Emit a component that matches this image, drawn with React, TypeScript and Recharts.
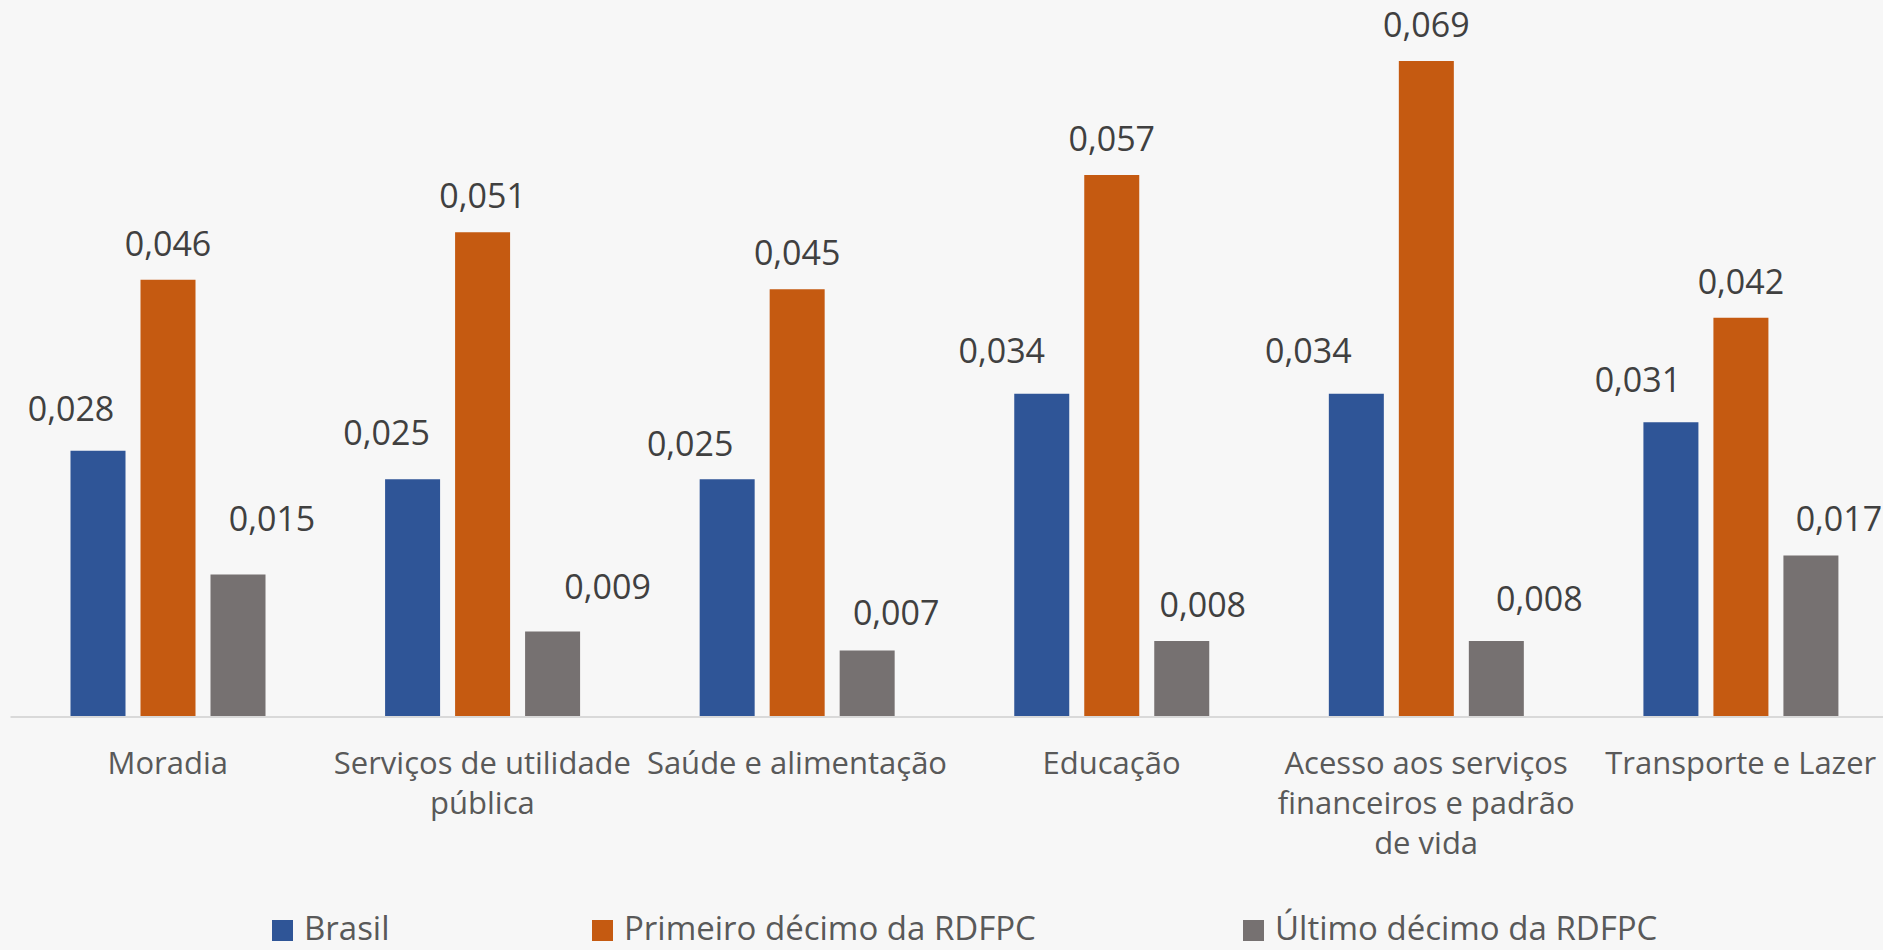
import React from 'react';
import { BarChart, Bar, XAxis, YAxis, LabelList, Legend } from 'recharts';

// Categories and their wrapped axis lines
const categories = [
  'Moradia',
  'Serviços de utilidade pública',
  'Saúde e alimentação',
  'Educação',
  'Acesso aos serviços financeiros e padrão de vida',
  'Transporte e Lazer',
];
const categoryLines = [
  ['Moradia'],
  ['Serviços de utilidade', 'pública'],
  ['Saúde e alimentação'],
  ['Educação'],
  ['Acesso aos serviços', 'financeiros e padrão', 'de vida'],
  ['Transporte e Lazer'],
];

// Series
const seriesNames = ['Brasil', 'Primeiro décimo da RDFPC', 'Último décimo da RDFPC'];
const brasil = [0.028, 0.025, 0.025, 0.034, 0.034, 0.031];
const primeiroDecimo = [0.046, 0.051, 0.045, 0.057, 0.069, 0.042];
const ultimoDecimo = [0.015, 0.009, 0.007, 0.008, 0.008, 0.017];

const data = categories.map((name, i) => ({
  name,
  brasil: brasil[i],
  primeiro: primeiroDecimo[i],
  ultimo: ultimoDecimo[i],
}));

const COLORS = ['#2F5597', '#C55A11', '#767171'];
const FONT = '"Open Sans", "Noto Sans", sans-serif';
const BG = '#F7F7F7';

// Manual nudges of the data labels (px), per category
const blueNudgeX = [-27, -26, -37, -40, -48, -33];
const blueNudgeY = [-6, -10, 1, -7, -7, -6];
const grayNudgeX = [34, 55, 29, 21, 43, 28];
const grayNudgeY = [-19, -8, -1, 0, -6, 0];
const zeros = [0, 0, 0, 0, 0, 0];

const fmt = (v: number) => v.toFixed(3).replace('.', ',');

const makeLabel = (dxs: number[], dys: number[]) => (props: any) => {
  const vb = props.viewBox ?? props;
  const x = Number(vb.x ?? props.x);
  const y = Number(vb.y ?? props.y);
  const w = Number(vb.width ?? props.width);
  const i = Number(props.index ?? 0);
  return (
    <text
      x={x + w / 2 + dxs[i]}
      y={y - 24 + dys[i]}
      textAnchor="middle"
      fontFamily={FONT}
      fontSize={34}
      fill="#404040"
    >
      {fmt(Number(props.value))}
    </text>
  );
};

const CategoryTick = (props: any) => {
  const { x, y, index } = props;
  const lines = categoryLines[index] ?? [String(props.payload?.value ?? '')];
  return (
    <g>
      {lines.map((line: string, k: number) => (
        <text
          key={k}
          x={x}
          y={y + 57 + k * 40}
          textAnchor="middle"
          fontFamily={FONT}
          fontSize={31}
          fill="#595959"
        >
          {line}
        </text>
      ))}
    </g>
  );
};

// Legend entry positions along the bottom row
const legendLefts = [272, 592, 1243];

const LegendContent = () => (
  <svg width={1898} height={60} style={{ display: 'block', overflow: 'visible' }}>
    {seriesNames.map((name, i) => (
      <g key={name}>
        <rect x={legendLefts[i]} y={30} width={21} height={21} fill={COLORS[i]} />
        <text
          x={legendLefts[i] + 32}
          y={50}
          fontFamily={FONT}
          fontSize={33}
          fill="#595959"
        >
          {name}
        </text>
      </g>
    ))}
  </svg>
);

export default function App() {
  return (
    <div
      style={{
        position: 'absolute',
        left: 0,
        top: 0,
        width: 1883,
        height: 950,
        overflow: 'hidden',
        background: BG,
      }}
    >
      <BarChart
        width={1898}
        height={950}
        data={data}
        margin={{ top: 4, right: 0, left: 10.5, bottom: 113 }}
        barSize={55}
        barGap={15}
      >
        <XAxis
          dataKey="name"
          interval={0}
          tickLine={false}
          tickSize={0}
          tickMargin={0}
          height={120}
          axisLine={{ stroke: '#D9D9D9', strokeWidth: 2 }}
          tick={<CategoryTick />}
        />
        <YAxis hide domain={[0, 0.075]} />
        <Legend
          verticalAlign="middle"
          align="center"
          layout="horizontal"
          wrapperStyle={{ left: 0, top: 890, width: 1898, height: 60 }}
          content={<LegendContent />}
        />
        <Bar dataKey="brasil" name={seriesNames[0]} fill={COLORS[0]} isAnimationActive={false}>
          <LabelList dataKey="brasil" content={makeLabel(blueNudgeX, blueNudgeY)} />
        </Bar>
        <Bar dataKey="primeiro" name={seriesNames[1]} fill={COLORS[1]} isAnimationActive={false}>
          <LabelList dataKey="primeiro" content={makeLabel(zeros, zeros)} />
        </Bar>
        <Bar dataKey="ultimo" name={seriesNames[2]} fill={COLORS[2]} isAnimationActive={false}>
          <LabelList dataKey="ultimo" content={makeLabel(grayNudgeX, grayNudgeY)} />
        </Bar>
      </BarChart>
    </div>
  );
}
